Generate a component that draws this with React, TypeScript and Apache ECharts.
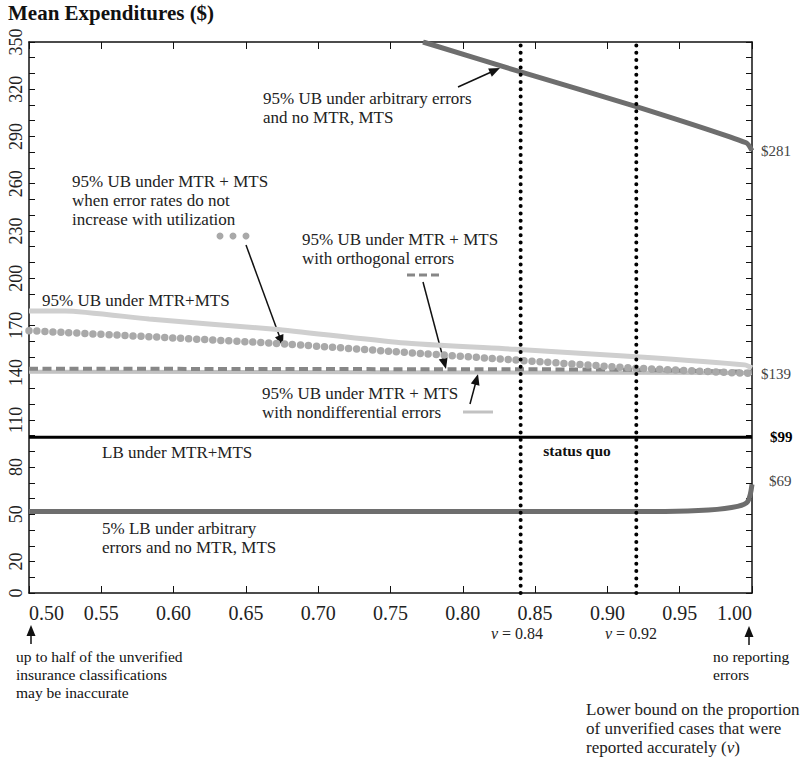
import React, { useEffect, useRef } from "react";
import * as echarts from "echarts";

// ---- data ----
const yLabelValues = [0, 20, 50, 80, 110, 140, 170, 200, 230, 260, 290, 320, 350];
const statusQuoV = [0.84, 0.92];

const ubArbitrary: [number, number][] = [[0.7725, 350], [0.84, 331], [0.92, 309], [0.996, 286], [1.0, 281]];
const ubMtrMts: [number, number][] = [[0.5, 179.2], [0.525, 179.2], [0.583, 174], [0.67, 167.5], [0.757, 159], [0.836, 154.8], [0.92, 150.1], [0.995, 144.9], [1.0, 143]];
const ubNoIncrease: [number, number][] = [[0.5, 166.6], [0.583, 162.8], [0.67, 158.6], [0.753, 153.3], [0.836, 148], [0.92, 142.8], [1.0, 139.4]];
const ubOrthogonal: [number, number][] = [[0.5, 142.5], [0.9, 142], [1.0, 140.5]];
const ubNondiff: [number, number][] = [[0.5, 140.6], [1.0, 139.8]];
const lbMtrMts: [number, number][] = [[0.5, 99], [1.0, 99]];
const lbArbitrary: [number, number][] = [[0.5, 51.7], [0.94, 51.8], [0.97, 52.7], [0.99, 55], [0.997, 58], [1.0, 69]];

const endLabelTexts = { ubArbitrary: "$281", ubNoIncrease: "$139", lbMtrMts: "$99", lbArbitrary: "$69" };

const FONT = '"Liberation Serif", "Times New Roman", Times, serif';
const DARK = "#6e6e6e";
const LIGHT = "#cfcfcf";
const DOTS = "#a9a9a9";
const DASH = "#878787";
const SOLID2 = "#c2c2c2";

function arrow(x1: number, y1: number, x2: number, y2: number) {
  const a = Math.atan2(y2 - y1, x2 - x1);
  const L = 11, W = 4.5;
  const c = Math.cos(a), s = Math.sin(a);
  const bx = x2 - L * c, by = y2 - L * s;
  const px = -s * W, py = c * W;
  return [
    { type: "line", shape: { x1, y1, x2: bx + c * 2, y2: by + s * 2 }, style: { stroke: "#111", lineWidth: 1.5 } },
    { type: "polygon", shape: { points: [[x2, y2], [bx + px, by + py], [bx - px, by - py]] }, style: { fill: "#111" } },
  ];
}

function txt(text: string, x: number, y: number, size = 17, extra: any = {}) {
  return {
    type: "text",
    x,
    y,
    style: {
      text,
      fontFamily: FONT,
      fontSize: size,
      fill: extra.fill || "#222",
      fontWeight: extra.fontWeight || "normal",
      align: extra.align || "left",
      verticalAlign: "middle",
      rich: extra.rich,
    },
  };
}

export default function App() {
  const ref = useRef<HTMLDivElement>(null);
  useEffect(() => {
    if (!ref.current) return;
    const chart = echarts.init(ref.current, null, { renderer: "svg" });
    const richI = { i: { fontStyle: "italic", fontFamily: FONT, fontSize: 16, fill: "#222" } };
    const endLabel = (text: string, extra: any = {}) => ({
      show: true,
      formatter: text,
      fontFamily: FONT,
      fontSize: 15,
      color: extra.color || "#444",
      fontWeight: extra.fontWeight || "normal",
      distance: extra.distance ?? 9,
      offset: extra.offset || [0, 0],
    });
    const grid = { left: 29, top: 42, width: 723, height: 551 };
    const option: any = {
      animation: false,
      backgroundColor: "#fff",
      grid,
      xAxis: [
        {
          type: "value",
          min: 0.5,
          max: 1.0,
          interval: 0.05,
          position: "bottom",
          axisLine: { show: true, onZero: false, lineStyle: { color: "#111", width: 1.5 } },
          axisTick: { show: true, inside: true, length: 7, lineStyle: { color: "#111", width: 1 } },
          axisLabel: {
            fontFamily: FONT,
            fontSize: 20,
            color: "#222",
            margin: 10,
            formatter: (v: number) => v.toFixed(2),
            alignMinLabel: "left",
            alignMaxLabel: "right",
          },
          splitLine: { show: false },
        },
        {
          type: "value",
          min: 0.5,
          max: 1.0,
          interval: 0.05,
          position: "top",
          axisLine: { show: true, onZero: false, lineStyle: { color: "#111", width: 1.5 } },
          axisTick: { show: true, inside: true, length: 7, lineStyle: { color: "#111", width: 1 } },
          axisLabel: { show: false },
          splitLine: { show: false },
        },
      ],
      yAxis: [
        {
          type: "value",
          min: 0,
          max: 350,
          interval: 10,
          position: "left",
          axisLine: { show: true, onZero: false, lineStyle: { color: "#111", width: 1.5 } },
          axisTick: { show: true, inside: true, length: 6, lineStyle: { color: "#111", width: 1 } },
          axisLabel: {
            rotate: 90,
            fontFamily: FONT,
            fontSize: 18,
            color: "#222",
            margin: 4,
            formatter: (v: number) => (yLabelValues.includes(Math.round(v)) ? String(Math.round(v)) : ""),
          },
          splitLine: { show: false },
        },
        {
          type: "value",
          min: 0,
          max: 350,
          interval: 10,
          position: "right",
          axisLine: { show: true, onZero: false, lineStyle: { color: "#111", width: 1.5 } },
          axisTick: { show: true, inside: true, length: 6, lineStyle: { color: "#111", width: 1 } },
          axisLabel: { show: false },
          splitLine: { show: false },
        },
      ],
      series: [
        {
          type: "line",
          name: "nondiff",
          data: ubNondiff,
          symbol: "none",
          lineStyle: { color: SOLID2, width: 4 },
        },
        {
          type: "line",
          name: "orthogonal",
          data: ubOrthogonal,
          symbol: "none",
          lineStyle: { color: DASH, width: 4, type: [9, 4.5] },
        },
        {
          type: "line",
          name: "ubMtrMts",
          data: ubMtrMts,
          symbol: "none",
          smooth: 0.2,
          lineStyle: { color: LIGHT, width: 5 },
        },
        {
          type: "line",
          name: "noIncrease",
          data: ubNoIncrease,
          symbol: "none",
          smooth: 0.2,
          lineStyle: { color: DOTS, width: 7.5, type: [0, 8], cap: "round" },
          endLabel: endLabel(endLabelTexts.ubNoIncrease, { distance: 9 }),
        },
        {
          type: "line",
          name: "lbMtrMts",
          data: lbMtrMts,
          symbol: "none",
          lineStyle: { color: "#000", width: 3 },
          endLabel: endLabel(endLabelTexts.lbMtrMts, { color: "#000", fontWeight: "bold", distance: 18 }),
        },
        {
          type: "line",
          name: "lbArbitrary",
          data: lbArbitrary,
          symbol: "none",
          smooth: 0.3,
          lineStyle: { color: DARK, width: 5 },
          endLabel: endLabel(endLabelTexts.lbArbitrary, { distance: 17, offset: [0, -3] }),
        },
        {
          type: "line",
          name: "ubArbitrary",
          data: ubArbitrary,
          symbol: "none",
          smooth: 0.2,
          lineStyle: { color: DARK, width: 5 },
          endLabel: endLabel(endLabelTexts.ubArbitrary, { distance: 9 }),
        },
        ...statusQuoV.map((v) => ({
          type: "line",
          name: "sq" + v,
          data: [[v, 0], [v, 350]],
          symbol: "none",
          z: 5,
          lineStyle: { color: "#000", width: 4, type: [0, 7.3], cap: "round" },
        })),
      ],
      graphic: [
        txt("Mean Expenditures ($)", 8, 13, 21, { fontWeight: "bold", fill: "#111" }),
        txt("95% UB under arbitrary errors", 263, 98),
        txt("and no MTR, MTS", 263, 117),
        ...arrow(458, 87, 500, 68),
        txt("95% UB under MTR + MTS", 72, 181),
        txt("when error rates do not", 72, 200),
        txt("increase with utilization", 72, 219),
        { type: "circle", shape: { cx: 220, cy: 236, r: 3.5 }, style: { fill: DOTS } },
        { type: "circle", shape: { cx: 233, cy: 236, r: 3.5 }, style: { fill: DOTS } },
        { type: "circle", shape: { cx: 246, cy: 236, r: 3.5 }, style: { fill: DOTS } },
        ...arrow(246, 245, 283, 346),
        txt("95% UB under MTR + MTS", 302, 239),
        txt("with orthogonal errors", 302, 258),
        { type: "line", shape: { x1: 407, y1: 275, x2: 439, y2: 275 }, style: { stroke: DASH, lineWidth: 3, lineDash: [8, 4] } },
        ...arrow(423, 282, 446, 369),
        txt("95% UB under MTR+MTS", 42, 300),
        txt("95% UB under MTR + MTS", 262, 393),
        txt("with nondifferential errors", 262, 412),
        { type: "line", shape: { x1: 463, y1: 412, x2: 493, y2: 412 }, style: { stroke: SOLID2, lineWidth: 3 } },
        ...arrow(470, 404, 478, 374),
        txt("LB under MTR+MTS", 102, 452),
        txt("status quo", 577, 450, 15.5, { fontWeight: "bold", align: "center", fill: "#111" }),
        txt("5% LB under arbitrary", 102, 528),
        txt("errors and no MTR, MTS", 102, 547),
        ...arrow(31, 644, 31, 625),
        txt("up to half of the unverified", 16, 656, 15.5, { fill: "#111" }),
        txt("insurance classifications", 16, 674, 15.5, { fill: "#111" }),
        txt("may be inaccurate", 16, 692, 15.5, { fill: "#111" }),
        txt("{i|v} = 0.84", 517, 633, 16, { align: "center", rich: richI }),
        txt("{i|v} = 0.92", 631, 633, 16, { align: "center", rich: richI }),
        ...arrow(749, 645, 749, 626),
        txt("no reporting", 713, 656, 15.5, { fill: "#111" }),
        txt("errors", 713, 674, 15.5, { fill: "#111" }),
        txt("Lower bound on the proportion", 586, 709, 17),
        txt("of unverified cases that were", 586, 728, 17),
        txt("reported accurately ({i|v})", 586, 747, 17, { rich: { i: { fontStyle: "italic", fontFamily: FONT, fontSize: 17, fill: "#222" } } }),
      ],
    };
    chart.setOption(option);
    return () => chart.dispose();
  }, []);
  return (
    <div
      ref={ref}
      style={{ position: "fixed", left: 0, top: 0, width: 804, height: 767, background: "#fff" }}
    />
  );
}
